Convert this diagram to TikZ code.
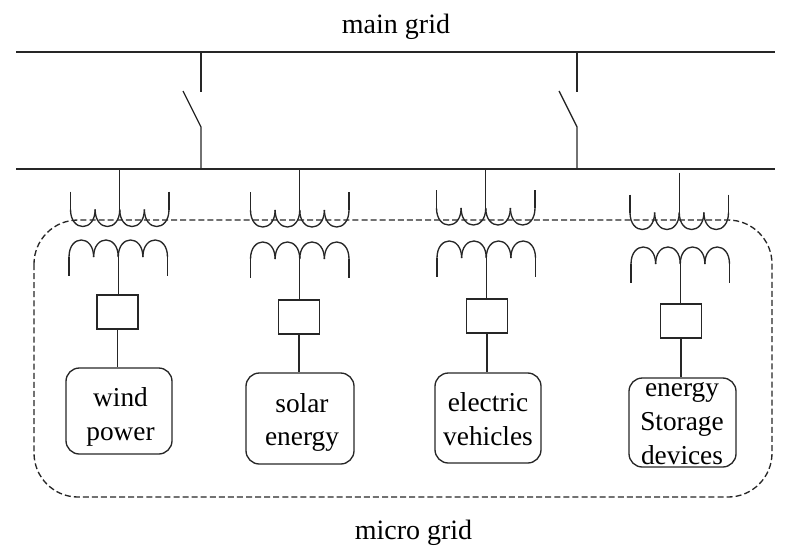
\documentclass[tikz,border=0pt]{standalone}
\usepackage{fontspec}
\setmainfont{Liberation Serif}
\tikzset{
  wire/.style={line width=1pt,color=black!85},
  unit/.style={draw,wire,minimum width=41*0.75pt,minimum height=34*0.75pt,inner sep=0pt},
  device/.style={draw,wire,rounded corners=10pt,inner sep=0pt},
  devtext/.style={align=center,inner sep=0pt,text=black,font=\fontsize{20.5}{25.4}\selectfont},
  caption/.style={font=\fontsize{21}{25}\selectfont,inner sep=0pt},
  upcoil/.pic={
    \draw [wire] (0,-18)--(0,0);
    \draw [wire] (98.5,-18)--(98.5,0);
    \foreach \k in {0,1,2,3}
      \draw [wire] (\k*24.625,0) .. controls (\k*24.625,22.7) and (\k*24.625+24.625,22.7) .. (\k*24.625+24.625,0);
    \coordinate (-mid) at (49.25,0);
  },
  lowcoil/.pic={
    \draw [wire] (0,18.5)--(0,0);
    \draw [wire] (98.5,18.5)--(98.5,0);
    \foreach \k in {0,1,2,3}
      \draw [wire] (\k*24.625,0) .. controls (\k*24.625,-22.7) and (\k*24.625+24.625,-22.7) .. (\k*24.625+24.625,0);
    \coordinate (-mid) at (49.25,0);
  },
}
\begin{document}
\begin{tikzpicture}[x=0.75pt,y=-0.75pt]  % ------ coordinates read in pixels ------
    \useasboundingbox (0,0) rectangle (791,547);
    \node [caption] (main) at (396,27) {main grid};
    \node [caption] (micro) at (413.5,533) {micro grid};
    % the two bus bars
    \coordinate (mainW) at (16,52);  \coordinate (mainE) at (775,52);
    \coordinate (busW) at (16,169);  \coordinate (busE) at (775,169);
    \draw [wire] (mainW)--(mainE);
    \draw [wire] (busW)--(busE);
    % switches
    \foreach \s/\xs in {a/201,b/577} {
      \coordinate (top\s) at (\xs,52);
      \coordinate (open\s) at (\xs,92);
      \coordinate (hinge\s) at (\xs,127);
      \coordinate (blade\s) at (\xs-18,91);
      \coordinate (bot\s) at (\xs,169);
      \draw [wire] (top\s)--(open\s);
      \draw [wire] (blade\s)--(hinge\s)--(bot\s);
    }
    \draw [wire,dash pattern=on 4.5pt off 2.3pt,rounded corners=33pt] (34,220) rectangle (772,497);
    % the four branches : tap, coils, box, device
    \foreach \i/\ytap/\xu/\yu/\xl/\yl/\xb/\yb/\xd/\yd/\wdev/\hdev/\xt/\yt/\txt in {
        1/169/70.5/209.5/69/257/117.5/312/119/411/106/86/120.5/417/{wind\\power},
        2/169/250.5/210/250.5/259/299/317/300/418.5/108/91/302/422.5/{solar\\energy},
        3/169/436.5/208/437/258/487/316/488/418/106/90/488/419.5/{electric\\vehicles},
        4/172.5/630/212.5/631/264/681/321/682.5/422.5/107/89/682/423.5/{energy\\Storage\\devices}} {
      \coordinate (tap\i) at (\xu+49.25,\ytap);
      \pic (u\i) at (\xu,\yu) {upcoil};
      \pic (l\i) at (\xl,\yl) {lowcoil};
      \node [unit] (b\i) at (\xb,\yb) {};
      \node [device,minimum width=\wdev*0.75pt,minimum height=\hdev*0.75pt] (d\i) at (\xd,\yd) {};
      \node [devtext] (t\i) at (\xt,\yt) {\txt};
      \draw [wire] (tap\i)--(u\i-mid);
      \draw [wire] (l\i-mid)--(l\i-mid|-b\i.north);
      \draw [wire] (b\i.south)--(b\i.south|-d\i.north);
    }
\end{tikzpicture}
\end{document}
